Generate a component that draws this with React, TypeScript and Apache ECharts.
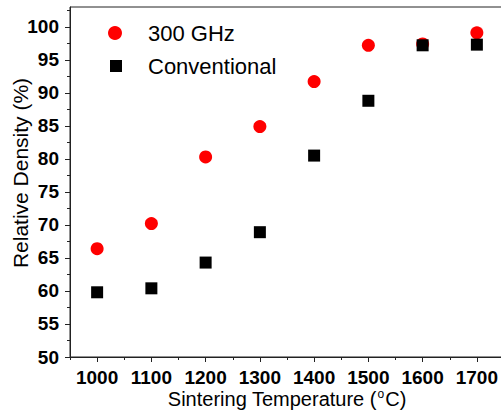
import React, { useEffect, useRef } from "react";
import * as echarts from "echarts";

const temperatures = [1000, 1100, 1200, 1300, 1400, 1500, 1600, 1700];
const ghz300 = [66.4, 70.2, 80.3, 84.9, 91.7, 97.2, 97.4, 99.1];
const conventional = [59.8, 60.4, 64.3, 68.9, 80.5, 88.8, 97.2, 97.3];
const xMajorTicks = [1000, 1100, 1200, 1300, 1400, 1500, 1600, 1700];
const xMinorTicks = [950, 1050, 1150, 1250, 1350, 1450, 1550, 1650, 1750];
const yMajorTicks = [50, 55, 60, 65, 70, 75, 80, 85, 90, 95, 100];
const yMinorTicks = [52.5, 57.5, 62.5, 67.5, 72.5, 77.5, 82.5, 87.5, 92.5, 97.5, 102.5];

const FONT = "Arial, 'Liberation Sans', sans-serif";
const LINE = "#222";

export default function App() {
  const ref = useRef<HTMLDivElement>(null);
  useEffect(() => {
    if (!ref.current) return;
    const chart = echarts.init(ref.current, undefined, { renderer: "svg" });
    const xBase = { type: "value", min: 950, max: 1750, gridIndex: 0 };
    const yBase = { type: "value", min: 50, max: 103, gridIndex: 0 };
    chart.setOption({
      animation: false,
      backgroundColor: "#fff",
      grid: {
        left: 70,
        top: 7,
        width: 434,
        height: 350,
        show: true,
        borderColor: LINE,
        borderWidth: 1,
        containLabel: false,
        outerBoundsMode: "none",
      },
      legend: [
        {
          data: [{ name: "300 GHz", icon: "circle" }],
          left: 108,
          top: 22,
          padding: 0,
          itemWidth: 14,
          itemHeight: 14,
          textStyle: { fontSize: 22, fontFamily: FONT, color: "#000", padding: [0, 0, 0, 21] },
          selectedMode: false,
        },
        {
          data: [{ name: "Conventional", icon: "rect" }],
          left: 110,
          top: 55,
          padding: 0,
          itemWidth: 12,
          itemHeight: 12,
          textStyle: { fontSize: 22, fontFamily: FONT, color: "#000", padding: [0, 0, 0, 21] },
          selectedMode: false,
        },
      ],
      xAxis: [
        {
          ...xBase,
          position: "bottom",
          name: "Sintering Temperature ({sup|o}C)",
          nameLocation: "middle",
          nameGap: 31,
          nameMoveOverlap: false,
          nameTextStyle: {
            fontSize: 20,
            lineHeight: 22,
            fontFamily: FONT,
            color: "#000",
            rich: {
              sup: { fontSize: 12, lineHeight: 12, fontFamily: FONT, color: "#000", verticalAlign: "top", padding: [0, 1, 0, 1] },
            },
          },
          axisLine: { show: true, lineStyle: { color: LINE, width: 1 } },
          axisTick: { show: true, inside: false, length: 5, customValues: xMajorTicks, lineStyle: { color: LINE } },
          axisLabel: {
            show: true,
            customValues: xMajorTicks,
            formatter: (v: number) => String(v),
            margin: 11,
            fontSize: 19,
            fontWeight: "bold",
            fontFamily: FONT,
            color: "#000",
          },
          splitLine: { show: false },
        },
        {
          ...xBase,
          position: "bottom",
          axisLine: { show: false },
          axisTick: { show: true, inside: false, length: 3, customValues: xMinorTicks, lineStyle: { color: LINE } },
          axisLabel: { show: false },
          splitLine: { show: false },
        },
      ],
      yAxis: [
        {
          ...yBase,
          position: "left",
          name: "Relative Density (%)",
          nameLocation: "middle",
          nameGap: 39,
          nameMoveOverlap: false,
          nameTextStyle: { fontSize: 21, fontFamily: FONT, color: "#000", padding: [0, 0, 0, 18] },
          axisLine: { show: true, lineStyle: { color: LINE, width: 1 } },
          axisTick: { show: true, inside: false, length: 5, customValues: yMajorTicks, lineStyle: { color: LINE } },
          axisLabel: {
            show: true,
            customValues: yMajorTicks,
            formatter: (v: number) => String(v),
            margin: 11,
            fontSize: 19,
            fontWeight: "bold",
            fontFamily: FONT,
            color: "#000",
          },
          splitLine: { show: false },
        },
        {
          ...yBase,
          position: "left",
          axisLine: { show: false },
          axisTick: { show: true, inside: false, length: 3, customValues: yMinorTicks, lineStyle: { color: LINE } },
          axisLabel: { show: false },
          splitLine: { show: false },
        },
      ],
      series: [
        {
          name: "300 GHz",
          type: "scatter",
          xAxisIndex: 0,
          yAxisIndex: 0,
          symbol: "circle",
          symbolSize: 13,
          itemStyle: { color: "#ff0000", opacity: 1 },
          data: temperatures.map((t, i) => [t, ghz300[i]]),
          z: 2,
        },
        {
          name: "Conventional",
          type: "scatter",
          xAxisIndex: 0,
          yAxisIndex: 0,
          symbol: "rect",
          symbolSize: 12,
          itemStyle: { color: "#000000", opacity: 1 },
          data: temperatures.map((t, i) => [t, conventional[i]]),
          z: 3,
        },
      ],
    });
    return () => chart.dispose();
  }, []);
  return (
    <div
      ref={ref}
      style={{ position: "absolute", left: 0, top: 0, width: 501, height: 416 }}
    />
  );
}
